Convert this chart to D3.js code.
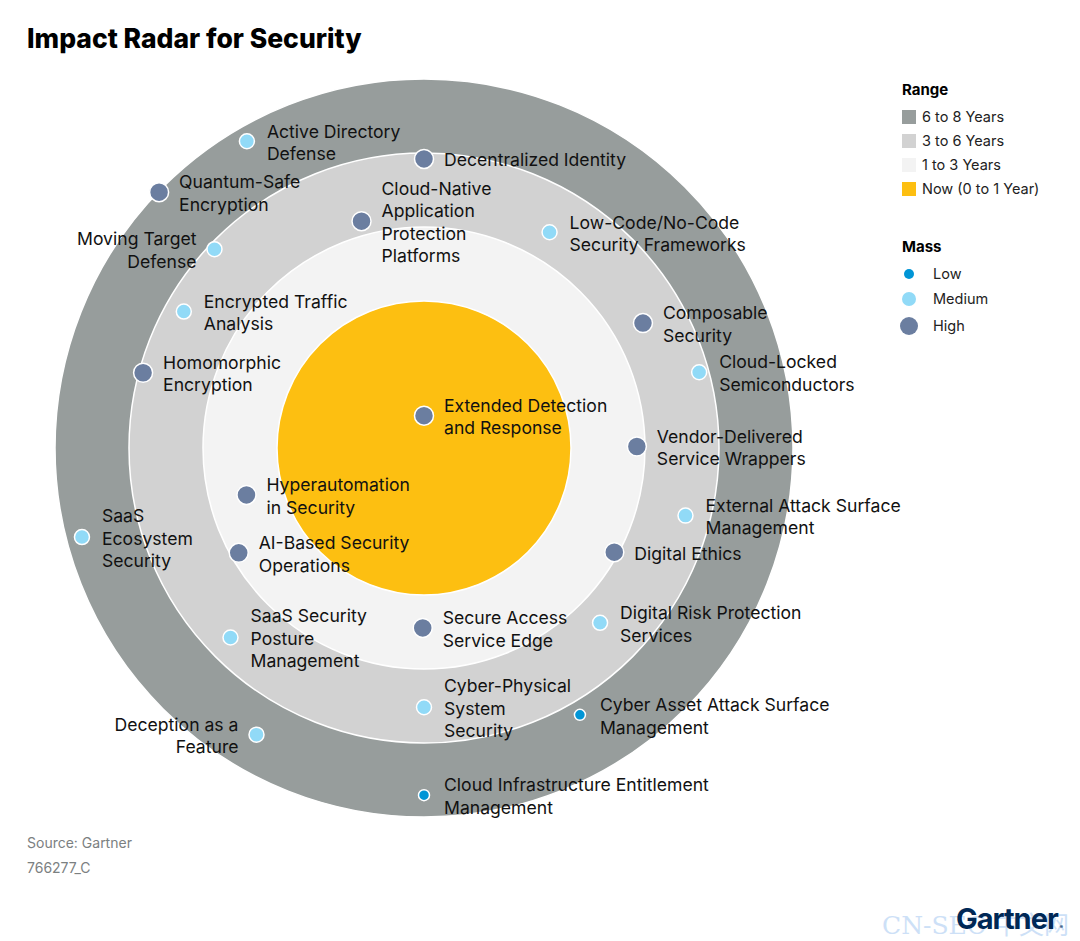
<!DOCTYPE html>
<html>
<head>
<meta charset="utf-8">
<script src="https://cdn.jsdelivr.net/npm/d3@7"></script>
<style>
  body { margin: 0; background: #fff; }
  svg { display: block; font-family: Inter, "Noto Sans", sans-serif; }
</style>
</head>
<body>
<svg id="chart" width="1080" height="941"></svg>
<script>
// ## DATA ##
const techNames = [
  "Extended Detection\nand Response",
  "Decentralized Identity",
  "Cloud-Native\nApplication\nProtection\nPlatforms",
  "Low-Code/No-Code\nSecurity Frameworks",
  "Composable\nSecurity",
  "Cloud-Locked\nSemiconductors",
  "Vendor-Delivered\nService Wrappers",
  "External Attack Surface\nManagement",
  "Digital Ethics",
  "Digital Risk Protection\nServices",
  "Secure Access\nService Edge",
  "Cyber-Physical\nSystem\nSecurity",
  "Cyber Asset Attack Surface\nManagement",
  "Cloud Infrastructure Entitlement\nManagement",
  "Deception as a\nFeature",
  "SaaS Security\nPosture\nManagement",
  "AI-Based Security\nOperations",
  "Hyperautomation\nin Security",
  "SaaS\nEcosystem\nSecurity",
  "Homomorphic\nEncryption",
  "Encrypted Traffic\nAnalysis",
  "Moving Target\nDefense",
  "Quantum-Safe\nEncryption",
  "Active Directory\nDefense"
]
// angle in degrees clockwise from 12 o'clock
const techAngles = [0, 0, 344.6, 30.2, 60.3, 74.6, 89.6, 104.5, 118.7, 134.8, 180.4, 180, 149.7, 180,
  210.3, 225.6, 240.5, 255.2, 255.4, 285, 299.6, 313.5, 314, 330]
// years to early majority adoption
const techYears = [0.22, 5.76, 3.58, 4.16, 4.26, 5.61, 2.78, 4.99, 2.89, 4.1, 1.89, 4.55, 6.38, 7.41,
  7.0, 5.02, 2.78, 1.99, 7.58, 5.83, 5.24, 5.75, 7.98, 7.6]
const techMass = ["High", "High", "High", "Medium", "High", "Medium", "High", "Medium", "High", "Medium",
  "High", "Medium", "Low", "Low", "Medium", "Medium", "High", "High", "Medium", "High", "Medium",
  "Medium", "High", "Medium"]
const leftLabels = ["Moving Target\nDefense", "Deception as a\nFeature"]

const rangeLabels = ["6 to 8 Years", "3 to 6 Years", "1 to 3 Years", "Now (0 to 1 Year)"]
const rangeBounds = [8, 6, 3, 1]
const massLabels = ["Low", "Medium", "High"]

// ## CANVAS BUILD ##
const cx = 424, cy = 448
const svg = d3.select("#chart")

const radius = d3.scaleLinear().domain([0, 1, 3, 6, 8]).range([0, 147, 221, 295, 369])
const angle = d3.scaleLinear().domain([0, 360]).range([0, 2 * Math.PI])
const rangeColor = d3.scaleOrdinal().domain(rangeLabels).range(["#979d9c", "#d2d2d2", "#f3f3f3", "#fdbf11"])
const massColor = d3.scaleOrdinal().domain(massLabels).range(["#0095d6", "#91daf7", "#6b7ea0"])
const massSize = d3.scaleOrdinal().domain(massLabels).range([5.5, 7.5, 9.5])

svg.append("text")
  .attr("x", 27).attr("y", 48)
  .style("font-size", "26.5px").style("font-weight", 800).style("fill", "#000")
  .text("Impact Radar for Security")

const rings = svg.append("g").attr("transform", `translate(${cx},${cy})`)
rings.selectAll("circle")
  .data(rangeBounds)
  .enter().append("circle")
  .attr("r", d => radius(d))
  .style("fill", (d, i) => rangeColor(rangeLabels[i]))
  .style("stroke", "#fff")
  .style("stroke-width", 1.5)

var techs = techNames.map((name, i) => {
  const a = angle(techAngles[i])
  const r = radius(techYears[i])
  return { name, mass: techMass[i], x: r * Math.sin(a), y: -r * Math.cos(a) }
})

const dots = rings.selectAll("g.tech")
  .data(techs)
  .enter().append("g")
  .attr("class", "tech")
  .attr("transform", d => `translate(${d.x},${d.y})`)

dots.append("circle")
  .attr("r", d => massSize(d.mass))
  .style("fill", d => massColor(d.mass))
  .style("stroke", "#fff")
  .style("stroke-width", 1.5)

const lineHeight = 22.5
dots.append("text")
  .style("font-size", "17.6px")
  .style("fill", "#111")
  .attr("text-anchor", d => leftLabels.includes(d.name) ? "end" : "start")
  .each(function (d) {
    const lines = d.name.split("\n")
    const left = leftLabels.includes(d.name)
    d3.select(this).selectAll("tspan")
      .data(lines)
      .enter().append("tspan")
      .attr("x", left ? -18 : 20)
      .attr("y", (l, i) => (i - (lines.length - 1) / 2) * lineHeight + 7.5)
      .text(l => l)
  })

// ## LEGEND ##
const legend = svg.append("g").attr("transform", "translate(902,0)")
legend.append("text").attr("x", 0).attr("y", 95)
  .style("font-size", "15px").style("font-weight", 700).text("Range")
const rangeRows = legend.selectAll("g.range")
  .data(rangeLabels)
  .enter().append("g")
  .attr("transform", (d, i) => `translate(0,${117 + i * 24})`)
rangeRows.append("rect")
  .attr("x", 0).attr("y", -7).attr("width", 14).attr("height", 14)
  .style("fill", d => rangeColor(d))
rangeRows.append("text")
  .attr("x", 20).attr("y", 5)
  .style("font-size", "14.5px").style("fill", "#222")
  .text(d => d)

legend.append("text").attr("x", 0).attr("y", 252)
  .style("font-size", "15px").style("font-weight", 700).text("Mass")
const massY = [274, 299, 326]
const massRows = legend.selectAll("g.mass")
  .data(massLabels)
  .enter().append("g")
  .attr("transform", (d, i) => `translate(0,${massY[i]})`)
massRows.append("circle")
  .attr("cx", 7).attr("r", d => massSize(d) - 0.5)
  .style("fill", d => massColor(d))
massRows.append("text")
  .attr("x", 31).attr("y", 5)
  .style("font-size", "14.5px").style("fill", "#222")
  .text(d => d)

// ## FOOTER ##
svg.append("text").attr("x", 27).attr("y", 848)
  .style("font-size", "14px").style("fill", "#7b8081").text("Source: Gartner")
svg.append("text").attr("x", 27).attr("y", 873)
  .style("font-size", "14px").style("fill", "#7b8081").text("766277_C")

svg.append("text").attr("x", 882).attr("y", 934)
  .style("font-family", "'DejaVu Serif', 'Noto Sans CJK SC', serif")
  .style("font-size", "25px").style("fill", "#9cc3f0").style("opacity", 0.5)
  .text("CN-SEC 中文网")
const logo = svg.append("text").attr("x", 956).attr("y", 929)
  .style("font-size", "29px").style("font-weight", 700).style("fill", "#002856")
  .style("letter-spacing", "-1px")
logo.append("tspan").text("Gartner")
logo.append("tspan").style("font-size", "5px").style("letter-spacing", "0px").attr("dx", 2).text("®")
</script>
</body>
</html>
